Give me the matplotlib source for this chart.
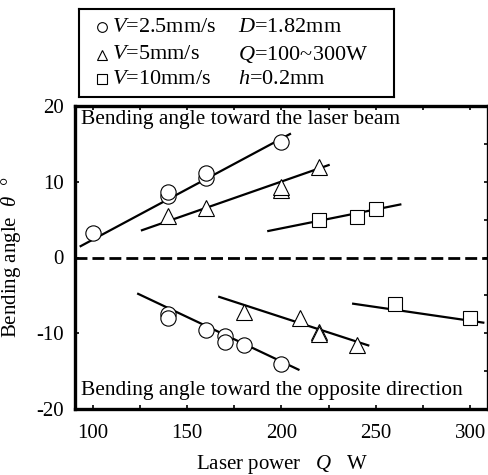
import matplotlib
matplotlib.use("Agg")
import matplotlib.pyplot as plt
from matplotlib.ticker import MultipleLocator

plt.rcParams['font.family'] = ['Liberation Serif', 'DejaVu Serif']
plt.rcParams['mathtext.fontset'] = 'custom'
plt.rcParams['mathtext.rm'] = 'Liberation Serif'
plt.rcParams['mathtext.it'] = 'Liberation Serif:italic'
plt.rcParams['axes.unicode_minus'] = False

# data
# bending toward the laser beam
circ_up_q = [100, 140, 140, 160, 160, 200]
circ_up_t = [3.2, 8.1, 8.7, 10.5, 11.1, 15.2]
tri_up_q = [140, 160, 200, 200, 220]
tri_up_t = [5.5, 6.6, 8.9, 9.3, 11.9]
sq_up_q = [220, 240, 250]
sq_up_t = [4.9, 5.4, 6.4]

# bending toward the opposite direction
circ_dn_q = [140, 140, 160, 170, 170, 180, 200]
circ_dn_t = [-7.4, -8.0, -9.6, -10.4, -11.2, -11.5, -14.0]
tri_dn_q = [180, 210, 220, 220, 240]
tri_dn_t = [-7.2, -8.0, -9.8, -10.1, -11.6]
sq_dn_q = [260, 300]
sq_dn_t = [-6.2, -8.0]

# fitted lines (start / end)
line_q_start = [93.5, 126, 193, 124, 167, 238]
line_q_end = [204.5, 225, 263, 209, 246, 307]
line_t_start = [1.5, 3.6, 3.5, -4.8, -5.2, -6.1]
line_t_end = [16.3, 12.2, 7.0, -14.8, -11.6, -8.6]

legend_left = ["$V$=2.5mm/s", "$V$=5mm/s", "$V$=10mm/s"]
legend_right = ["$D$=1.82mm", "$Q$=100~300W", "$h$=0.2mm"]
legend_markers = ["o", "^", "s"]

W, H = 489, 475
fig = plt.figure(figsize=(W / 100, H / 100), dpi=100)
ax = fig.add_axes([75 / W, 1 - 409 / H, 413 / W, 303 / H])

for q0, q1, t0, t1 in zip(line_q_start, line_q_end, line_t_start, line_t_end):
    ax.plot([q0, q1], [t0, t1], color='black', lw=1.6, zorder=2)

ax.axhline(0, color='black', lw=2.0, linestyle=(0, (4.3, 1.8)), zorder=2)

mk = dict(mfc='white', mec='black', mew=0.8, linestyle='none', zorder=3)
ax.plot(circ_up_q, circ_up_t, 'o', ms=11, **mk)
ax.plot(circ_dn_q, circ_dn_t, 'o', ms=11, **mk)
ax.plot(tri_up_q, tri_up_t, '^', ms=11, **mk)
ax.plot(tri_dn_q, tri_dn_t, '^', ms=11, **mk)
ax.plot(sq_up_q, sq_up_t, 's', ms=9.5, **mk)
ax.plot(sq_dn_q, sq_dn_t, 's', ms=9.5, **mk)

ax.text(0.015, 0.955, "Bending angle toward the laser beam", transform=ax.transAxes,
        fontsize=15.5, va='center', ha='left')
ax.text(0.015, 0.06, "Bending angle toward the opposite direction", transform=ax.transAxes,
        fontsize=15.5, va='center', ha='left')

ax.set_xlim(90.5, 309.5)
ax.set_ylim(-20, 20)
ax.xaxis.set_major_locator(MultipleLocator(50))
ax.xaxis.set_minor_locator(MultipleLocator(25))
ax.yaxis.set_major_locator(MultipleLocator(10))
ax.yaxis.set_minor_locator(MultipleLocator(5))
ax.tick_params(which='both', direction='in', top=True, right=True, labelsize=15,
               width=1.2, length=3)
ax.tick_params(axis='y', which='minor', left=False, right=True)
ax.tick_params(axis='x', pad=11)
ax.tick_params(axis='y', pad=8)
for s in ax.spines.values():
    s.set_linewidth(2.4)

ax.set_xlabel("Laser power   $Q$   W", fontsize=15)
ax.set_ylabel("Bending angle  $\\theta$  °", fontsize=15)
ax.xaxis.set_label_coords(0.5, -0.145)
ax.yaxis.set_label_coords(-0.125, 0.5)

# legend box
lax = fig.add_axes([79 / W, 1 - 97 / H, 315 / W, 88 / H])
lax.set_xlim(0, 1)
lax.set_ylim(0, 1)
lax.set_xticks([])
lax.set_yticks([])
for s in lax.spines.values():
    s.set_linewidth(1.5)
rows = [0.79, 0.48, 0.2]
for y, m, a, b in zip(rows, legend_markers, legend_left, legend_right):
    lax.plot([0.072], [y], m, ms=7 if m != 's' else 6.5, mfc='white', mec='black', mew=0.8)
    lax.text(0.105, y, a, fontsize=16, va='center', ha='left')
    lax.text(0.505, y, b, fontsize=16, va='center', ha='left')

fig.savefig("out.png", dpi=100)
